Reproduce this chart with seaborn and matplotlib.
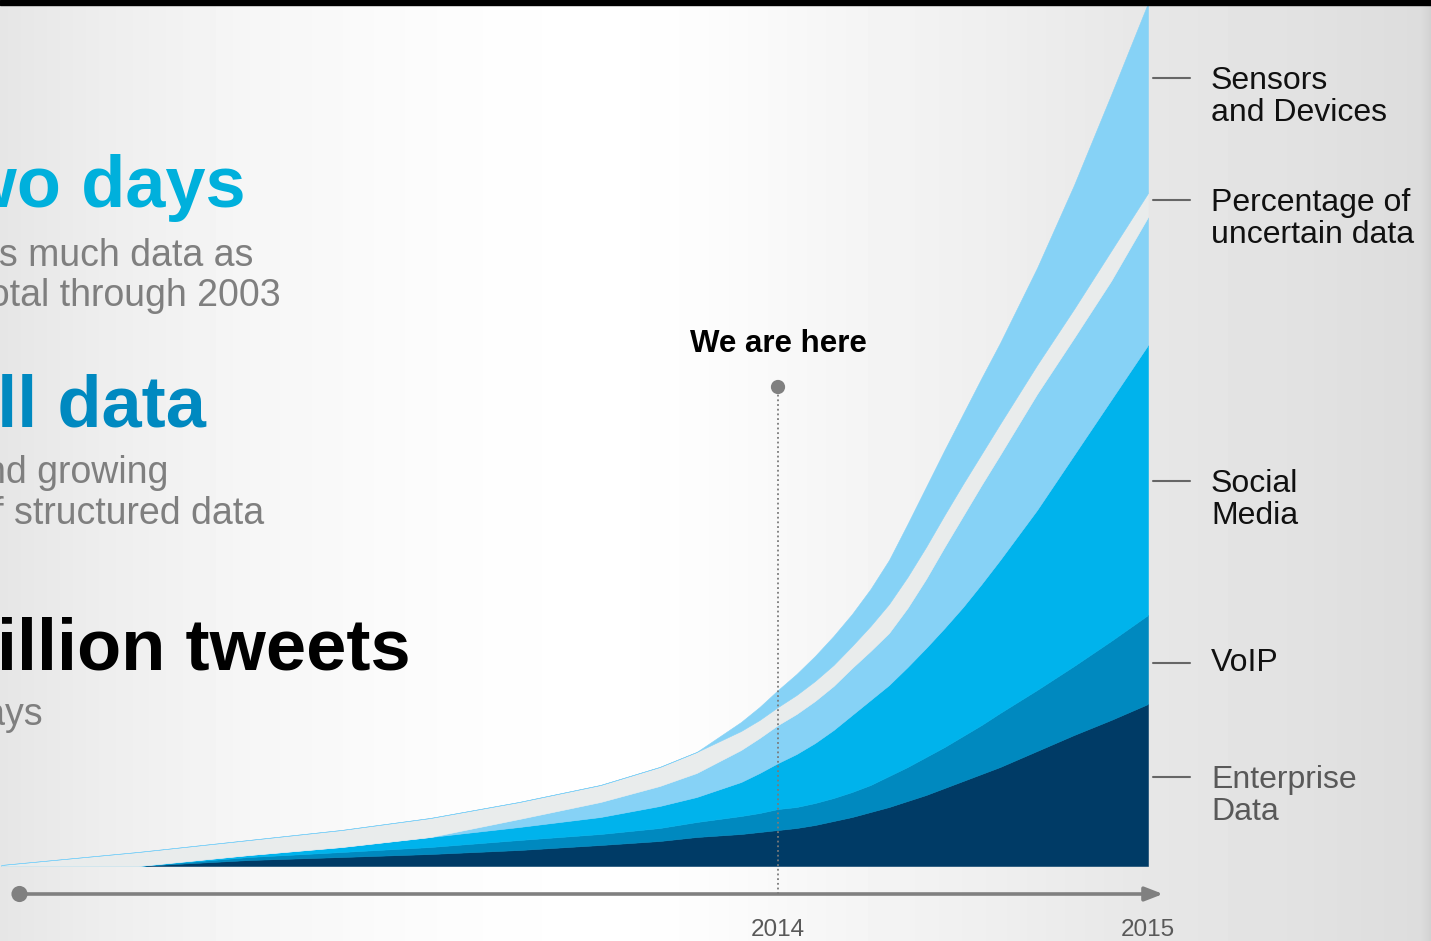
import numpy as np
import matplotlib
matplotlib.use("Agg")
import matplotlib.pyplot as plt
from matplotlib.patches import Rectangle
import seaborn as sns

# ==========================================
# Data
# ==========================================

years = [2011.9, 2012.27, 2012.57, 2012.82, 2013.06, 2013.3, 2013.52, 2013.68,
         2013.78, 2013.9, 2013.95, 2014.0, 2014.05, 2014.1, 2014.15, 2014.2,
         2014.25, 2014.3, 2014.35, 2014.4, 2014.45, 2014.5, 2014.55, 2014.6,
         2014.7, 2014.8, 2014.9, 2015.0]

enterprise = [0, 0, 0.6, 0.9, 1.2, 1.6, 2.1, 2.5, 2.9, 3.2, 3.4, 3.6, 3.8, 4.1,
              4.5, 4.9, 5.4, 5.9, 6.5, 7.1, 7.8, 8.5, 9.2, 9.9, 11.5, 13.1,
              14.6, 16.2]
voip = [0, 0, 0.3, 0.5, 0.7, 1.0, 1.1, 1.3, 1.5, 1.8, 1.9, 2.1, 2.1, 2.2,
        2.3, 2.5, 2.7, 3.1, 3.4, 3.8, 4.1, 4.5, 4.9, 5.4, 6.1, 6.9, 7.9, 8.9]
social = [0, 0, 0.2, 0.5, 1.0, 1.3, 1.7, 2.2, 2.5, 3.4, 4.0, 4.6, 5.3, 6.0,
          6.8, 7.7, 8.5, 9.1, 10.0, 10.9, 11.9, 12.9, 14.1, 15.3, 18.0, 21.1,
          24.1, 27.0]
sensors_low = [0, 0, 0, 0, 0, 0.8, 1.5, 2.0, 2.4, 3.2, 3.5, 3.8, 4.0, 4.2,
               4.4, 4.7, 4.9, 5.2, 5.9, 6.9, 8.1, 9.1, 9.9, 10.5, 11.6, 11.7,
               11.9, 12.8]
uncertain = [0.1, 1.4, 1.5, 1.7, 1.9, 1.7, 1.7, 1.9, 2.1, 1.9, 1.8, 1.8, 1.9,
             2.0, 2.1, 2.2, 2.5, 2.9, 3.1, 3.2, 3.2, 3.2, 3.1, 3.1, 2.9, 2.9,
             3.0, 2.4]
sensors_high = [0, 0, 0, 0, 0, 0, 0, 0, 0, 0.9, 1.3, 1.7, 2.1, 2.5, 2.9, 3.2,
                3.7, 4.4, 5.3, 6.0, 6.5, 7.0, 7.6, 8.1, 9.7, 12.4, 15.6, 19.0]

layer_colors = ["#003B66", "#0089BF", "#00B3EC", "#86D2F6", "#E9ECEC", "#86D2F6"]

year_ticks = [2014, 2015]
now_year = 2014
timeline_start = 2011.95

series_labels = ["Sensors\nand Devices", "Percentage of\nuncertain data",
                 "Social\nMedia", "VoIP", "Enterprise\nData"]
label_colors = ["#111111", "#111111", "#111111", "#111111", "#595959"]

headlines = ["In two days", "90% of all data", "450 million tweets"]
headline_colors = ["#00B0DC", "#0089C0", "#000000"]
sublines = ["we create as much data as", "we did in total through 2003",
            "is unstructured and growing", "at 15x the rate of structured data",
            "every 2 days"]

# ==========================================
# Layout helpers (pixel based)
# ==========================================

W, H = 1431, 941


def px_x(px):
    return 2014 + (px - 778) / 370


def px_y(py):
    return (866 - py) / 10


sns.set_theme(style="white")
plt.rcParams["font.family"] = ["Liberation Sans", "DejaVu Sans"]

fig = plt.figure(figsize=(W / 100, H / 100), dpi=100)
ax = fig.add_axes([0, 0, 1, 1])


def ftext(px, py, s, **kw):
    return fig.text(px / W, 1 - py / H, s, **kw)


# background gradient
stops_px = [0, 100, 250, 450, 600, 700, 850, 1000, 1148, 1300, 1420, 1431]
stops_val = [0.90, 0.93, 0.965, 0.99, 1.0, 0.99, 0.96, 0.935, 0.905, 0.885, 0.865, 0.82]
grad = np.interp(np.arange(W), stops_px, stops_val)
ax.imshow(np.tile(grad, (2, 1)), cmap="gray", vmin=0, vmax=1, aspect="auto",
          extent=[px_x(0), px_x(W), px_y(H), px_y(0)], zorder=0)

# ==========================================
# Stacked areas
# ==========================================

polys = ax.stackplot(years, enterprise, voip, social, sensors_low, uncertain,
                     sensors_high, colors=layer_colors, zorder=2)
for p, c in zip(polys, layer_colors):
    p.set_edgecolor(c)
    p.set_linewidth(0.4)

# timeline arrow
ax.annotate("", xy=(px_x(1163), px_y(894)), xytext=(timeline_start, px_y(894)),
            arrowprops=dict(arrowstyle="-|>,head_length=0.9,head_width=0.35",
                            color="#808080", lw=2.6, shrinkA=0, shrinkB=0),
            zorder=3)

# "we are here" marker
ax.plot([now_year, now_year], [px_y(390), px_y(894)], ls=(0, (1, 1.6)),
        color="#7A7A7A", lw=1.3, zorder=3)
sns.scatterplot(x=[timeline_start], y=[px_y(894)], s=135, color="#808080",
                edgecolor="none", ax=ax, zorder=4, legend=False)
sns.scatterplot(x=[now_year], y=[px_y(387)], s=105, color="#808080",
                edgecolor="none", ax=ax, zorder=4, legend=False)
ax.text(now_year, px_y(352), "We are here", ha="center", va="baseline",
        fontsize=22.5, fontweight="bold", color="black")

for yr in year_ticks:
    ax.text(yr, px_y(936), str(yr), ha="center", va="baseline",
            fontsize=17.5, color="#595959")

ax.set_xlim(px_x(0), px_x(W))
ax.set_ylim(px_y(H), px_y(0))
ax.axis("off")

# ==========================================
# Right hand labels
# ==========================================

label_rows = [78, 200, 481, 663, 777]
for lab, row, col in zip(series_labels, label_rows, label_colors):
    ax.plot([px_x(1153), px_x(1190)], [px_y(row), px_y(row)], color="#666666",
            lw=1.5, zorder=3)
    n_extra = lab.count("\n")
    # matplotlib puts the baseline of the last line at y
    ftext(1211, row + 8 + 35 * n_extra, lab, ha="left", va="baseline",
          fontsize=23, color=col, linespacing=1.1)

# ==========================================
# Left hand text (cut off by the frame)
# ==========================================

head_pos = [(246, 207), (206, 427), (411, 670)]
for txt, (x, y), col in zip(headlines, head_pos, headline_colors):
    ftext(x, y, txt, ha="right", va="baseline", fontsize=52,
          fontweight="bold", color=col)

sub_pos = [(253, 266), (281, 306), (168, 483), (264, 524), (43, 725)]
for txt, (x, y) in zip(sublines, sub_pos):
    ftext(x, y, txt, ha="right", va="baseline", fontsize=27, color="#7F7F7F")

# top black bar
fig.patches.append(Rectangle((0, 1 - 5 / H), 1, 5 / H, transform=fig.transFigure,
                             color="black", zorder=10))

fig.savefig("out.png", dpi=100)
